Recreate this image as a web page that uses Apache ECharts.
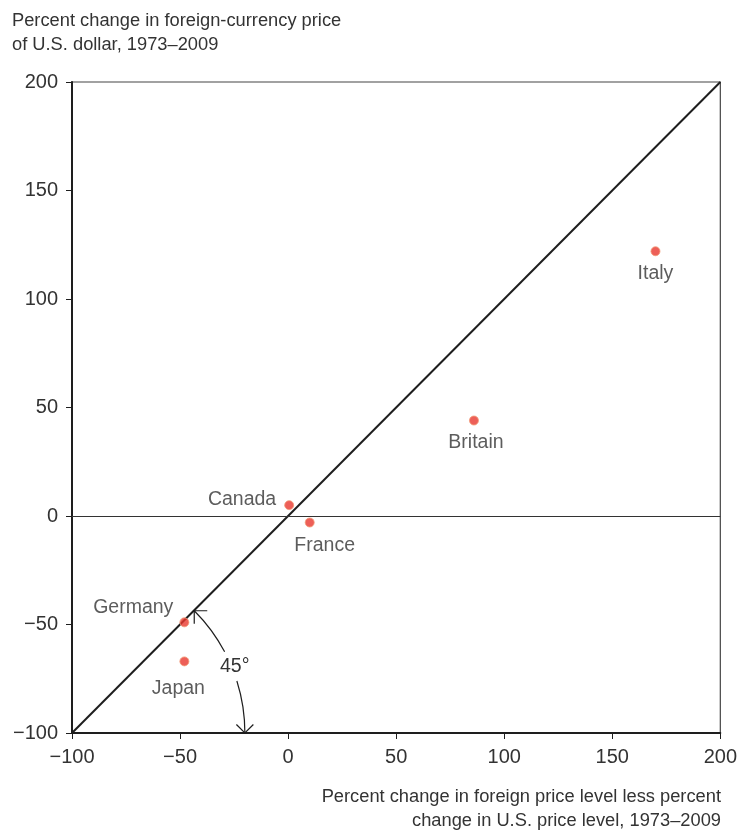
<!DOCTYPE html>
<html>
<head>
<meta charset="utf-8">
<script src="https://cdn.jsdelivr.net/npm/echarts@6/dist/echarts.min.js"></script>
<style>
html,body{margin:0;padding:0;background:#fff;}
#chart{width:740px;height:831px;}
</style>
</head>
<body>
<div id="chart"></div>
<script>
// ---- data ----
const countries = ['Italy', 'Britain', 'Canada', 'France', 'Germany', 'Japan'];
const priceLevelDiff = [170, 86, 0.5, 10, -48, -48];      // x: % change in foreign price level less % change in U.S. price level
const currencyChange = [122, 44, 5, -3, -49, -67];         // y: % change in foreign-currency price of U.S. dollar
const axisMin = -100, axisMax = 200, axisStep = 50;
const yTitle = ['Percent change in foreign-currency price', 'of U.S. dollar, 1973\u20132009'];
const xTitle = ['Percent change in foreign price level less percent', 'change in U.S. price level, 1973\u20132009'];
const angleLabel = '45\u00B0';
const arcRadius = 80; // in axis units, centered at the origin corner (-100,-100)

// label placement per country (style only)
const labelStyles = {
  Italy:   { position: 'bottom', distance: 7 },
  Britain: { position: 'bottom', distance: 7, offset: [2, 0] },
  Canada:  { position: 'left', distance: 8, offset: [0, -6] },
  France:  { position: 'bottom', distance: 8, offset: [15, 0] },
  Germany: { position: 'left', distance: 6, offset: [0, -15] },
  Japan:   { position: 'bottom', distance: 12, offset: [-6, 0] }
};

const FONT = '"Liberation Sans", Arial, Helvetica, sans-serif';
const TXT = '#333';
const LINE = '#1e1e1e';
const LABEL_SIZE = 19.5, TICK_SIZE = 20, TITLE_SIZE = 18.3;

const points = countries.map((c, i) => ({
  name: c,
  value: [priceLevelDiff[i], currencyChange[i]],
  label: Object.assign({ show: true, formatter: c, color: TXT, fontSize: LABEL_SIZE, fontFamily: FONT }, labelStyles[c])
}));

const diagonal = [[axisMin, axisMin], [axisMax, axisMax]];

const chart = echarts.init(document.getElementById('chart'), null, { renderer: 'canvas' });

function arrowHead(tip, backDir, len) {
  const a = Math.PI / 4;
  const rot = (v, t) => [v[0] * Math.cos(t) - v[1] * Math.sin(t), v[0] * Math.sin(t) + v[1] * Math.cos(t)];
  const r1 = rot(backDir, a), r2 = rot(backDir, -a);
  return {
    type: 'polyline',
    shape: { points: [[tip[0] + r1[0] * len, tip[1] + r1[1] * len], tip, [tip[0] + r2[0] * len, tip[1] + r2[1] * len]] },
    style: { stroke: LINE, lineWidth: 1.2, fill: null }
  };
}

const option = {
  backgroundColor: '#fff',
  animation: false,
  textStyle: { fontFamily: FONT },
  grid: { left: 72, right: 18, top: 82, bottom: 98, show: true, borderColor: '#444', borderWidth: 1.2, backgroundColor: 'transparent' },
  xAxis: {
    type: 'value', min: axisMin, max: axisMax, interval: axisStep,
    axisLine: { show: true, onZero: false, lineStyle: { color: LINE, width: 2 } },
    axisTick: { show: true, inside: false, length: 6, lineStyle: { color: LINE, width: 1 } },
    axisLabel: { color: TXT, fontSize: TICK_SIZE, fontFamily: FONT, margin: 14, formatter: v => String(v).replace('-', '\u2212') },
    splitLine: { show: false }
  },
  yAxis: {
    type: 'value', min: axisMin, max: axisMax, interval: axisStep,
    axisLine: { show: true, onZero: false, lineStyle: { color: LINE, width: 2 } },
    axisTick: { show: true, inside: false, length: 6, lineStyle: { color: LINE, width: 1 } },
    axisLabel: { color: TXT, fontSize: TICK_SIZE, fontFamily: FONT, margin: 14, formatter: v => String(v).replace('-', '\u2212') },
    splitLine: { show: false }
  },
  graphic: [
    { type: 'text', x: 12, y: 21, style: { text: yTitle[0], fill: TXT, font: TITLE_SIZE + 'px ' + FONT, verticalAlign: 'middle' } },
    { type: 'text', x: 12, y: 45, style: { text: yTitle[1], fill: TXT, font: TITLE_SIZE + 'px ' + FONT, verticalAlign: 'middle' } },
    { type: 'text', x: 721, y: 797, style: { text: xTitle[0], fill: TXT, font: TITLE_SIZE + 'px ' + FONT, align: 'right', verticalAlign: 'middle' } },
    { type: 'text', x: 721, y: 821, style: { text: xTitle[1], fill: TXT, font: TITLE_SIZE + 'px ' + FONT, align: 'right', verticalAlign: 'middle' } }
  ],
  series: [
    {
      type: 'line', data: diagonal, symbol: 'none', silent: true,
      lineStyle: { color: LINE, width: 2 },
      markLine: {
        silent: true, symbol: 'none', label: { show: false },
        lineStyle: { color: '#333', width: 1.2, type: 'solid' },
        data: [{ yAxis: 0 }]
      },
      z: 2
    },
    {
      type: 'custom', silent: true, clip: false, z: 3,
      data: [[axisMin, axisMin, arcRadius]],
      renderItem: function (params, api) {
        const c = api.coord([api.value(0), api.value(1)]);
        const r = api.coord([api.value(0) + api.value(2), api.value(1)])[0] - c[0];
        const deg = Math.PI / 180;
        const pt = (t) => [c[0] + r * Math.cos(t * deg), c[1] - r * Math.sin(t * deg)];
        const tipTop = pt(45), tipBot = pt(0), lbl = pt(22.5);
        return {
          type: 'group',
          children: [
            { type: 'arc', shape: { cx: c[0], cy: c[1], r: r, startAngle: -45 * deg, endAngle: -28 * deg, clockwise: true }, style: { stroke: LINE, lineWidth: 1.2, fill: null } },
            { type: 'arc', shape: { cx: c[0], cy: c[1], r: r, startAngle: -17.5 * deg, endAngle: 0, clockwise: true }, style: { stroke: LINE, lineWidth: 1.2, fill: null } },
            arrowHead(tipTop, [Math.SQRT1_2, Math.SQRT1_2], 13),
            arrowHead(tipBot, [0, -1], 12),
            { type: 'text', style: { text: angleLabel, x: lbl[0] + 3, y: lbl[1], align: 'center', verticalAlign: 'middle', fill: TXT, font: LABEL_SIZE + 'px ' + FONT } }
          ]
        };
      }
    },
    {
      type: 'scatter', data: points, symbol: 'circle', symbolSize: 9, z: 5,
      itemStyle: { color: '#e8372e', borderColor: '#f29a75', borderWidth: 1 }
    }
  ]
};

chart.setOption(option);
</script>
</body>
</html>
